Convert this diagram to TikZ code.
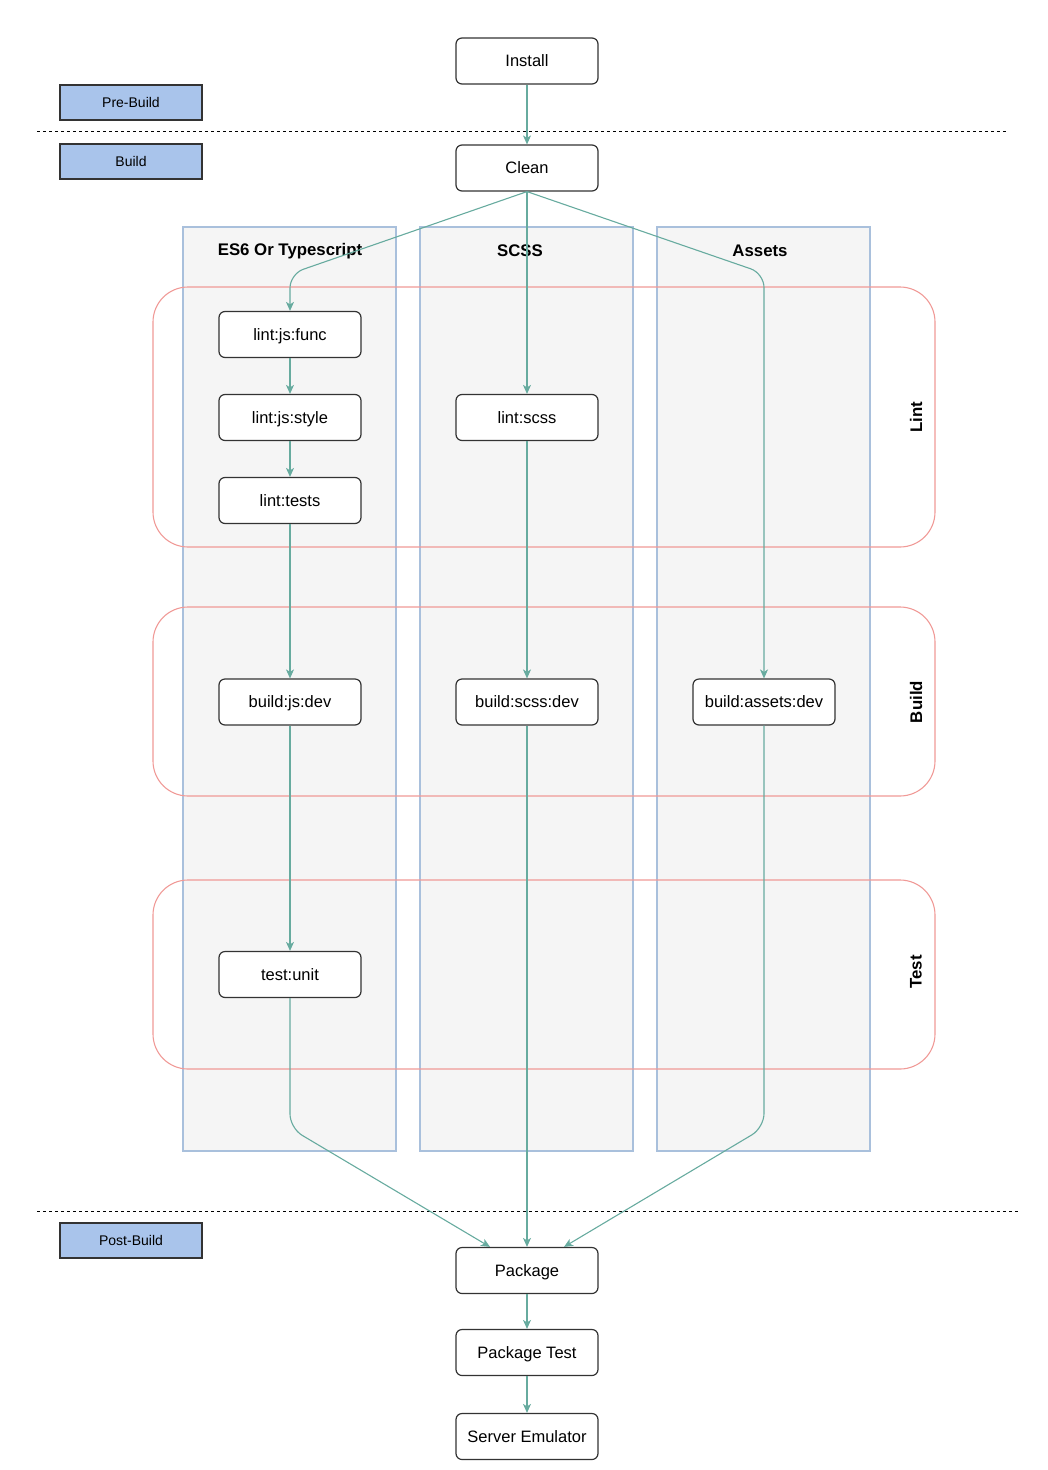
\documentclass[tikz,border=0pt]{standalone}
\usepackage{fontspec}
\setmainfont{Liberation Sans}
\usetikzlibrary{arrows.meta,calc}
\definecolor{flowc}{HTML}{67AB9F}
\definecolor{lanefill}{HTML}{F5F5F5}
\definecolor{laneline}{HTML}{A9C0DC}
\definecolor{groupline}{HTML}{F09A97}
\definecolor{phasefill}{HTML}{A9C4EB}
\definecolor{nodeline}{HTML}{333333}

\begin{document}
\begin{tikzpicture}[x=1pt,y=-1pt,
  task/.style={draw=nodeline, line width=1.2pt, rounded corners=6pt, fill=white,
    minimum width=142pt, minimum height=46pt, inner sep=0pt, text depth=0.5pt,
    font=\fontsize{16.5}{19}\selectfont},
  phase/.style={draw=nodeline, line width=1.2pt, fill=phasefill,
    minimum width=142pt, minimum height=35pt, inner sep=0pt,
    font=\fontsize{14}{17}\selectfont},
  lane/.style={draw=laneline, line width=1.3pt, fill=lanefill},
  group/.style={draw=groupline, line width=1.1pt, rounded corners=35pt},
  title/.style={font=\bfseries\fontsize{16.8}{19}\selectfont},
  flow/.style={draw=flowc, line width=1.1pt, -{Stealth[length=9pt,width=8pt,inset=2.5pt]}},
  sep/.style={line width=0.9pt, dash pattern=on 3pt off 3pt}
]
\useasboundingbox (0,0) rectangle (1048,1470);

% swimlanes
\draw[lane] (183,227) rectangle (396,1151);
\draw[lane] (420,227) rectangle (633,1151);
\draw[lane] (657,227) rectangle (870,1151);
\node[title] (tes6) at (290,251) {ES6 Or Typescript};
\node[title] (tscss) at (520,251) {SCSS};
\node[title] (tassets) at (760,251) {Assets};

% stage groups
\draw[group] (153,287) rectangle (935,547);
\draw[group] (153,607) rectangle (935,796);
\draw[group] (153,880) rectangle (935,1069);
\node[title, rotate=90] (glint) at (916,417) {Lint};
\node[title, rotate=90] (gbuild) at (916,702) {Build};
\node[title, rotate=90] (gtest) at (916,972) {Test};

% phase separators
\draw[sep] (37,131) -- (1008,131);
\draw[sep] (37,1211) -- (1020,1211);

% phase labels
\node[phase] (pre) at (131,102.5) {Pre-Build};
\node[phase] (bld) at (131,161.5) {Build};
\node[phase] (post) at (131,1240.5) {Post-Build};

% tasks
\node[task] (install) at (527,61) {Install};
\node[task] (clean) at (527,168) {Clean};
\node[task] (func) at (290,334.5) {lint:js:func};
\node[task] (style) at (290,417.5) {lint:js:style};
\node[task] (tests) at (290,500.5) {lint:tests};
\node[task] (scss) at (527,417.5) {lint:scss};
\node[task] (jsdev) at (290,702) {build:js:dev};
\node[task] (scssdev) at (527,702) {build:scss:dev};
\node[task] (assetsdev) at (764,702) {build:assets:dev};
\node[task] (unit) at (290,974.5) {test:unit};
\node[task] (pkg) at (527,1270.5) {Package};
\node[task] (pkgtest) at (527,1352.5) {Package Test};
\node[task] (emu) at (527,1436.5) {Server Emulator};

% flow
\draw[flow] (install) -- (clean);
\draw[flow, rounded corners=14pt] (clean.south) -- ($(func.north)+(0,-37)$) -- (func.north);
\draw[flow] (clean) -- (scss);
\draw[flow, rounded corners=14pt] (clean.south) -- ($(assetsdev.north)+(0,-405)$) -- (assetsdev.north);
\draw[flow] (func) -- (style);
\draw[flow] (style) -- (tests);
\draw[flow] (tests) -- (jsdev);
\draw[flow] (jsdev) -- (unit);
\draw[flow] (scss) -- (scssdev);
\draw[flow] (scssdev) -- (pkg);
\draw[flow, rounded corners=14pt] (unit.south) -- ($(unit.south)+(0,130)$) -- ($(pkg.north)+(-37,0)$);
\draw[flow, rounded corners=14pt] (assetsdev.south) -- ($(assetsdev.south)+(0,402)$) -- ($(pkg.north)+(37,0)$);
\draw[flow] (pkg) -- (pkgtest);
\draw[flow] (pkgtest) -- (emu);
\end{tikzpicture}
\end{document}
